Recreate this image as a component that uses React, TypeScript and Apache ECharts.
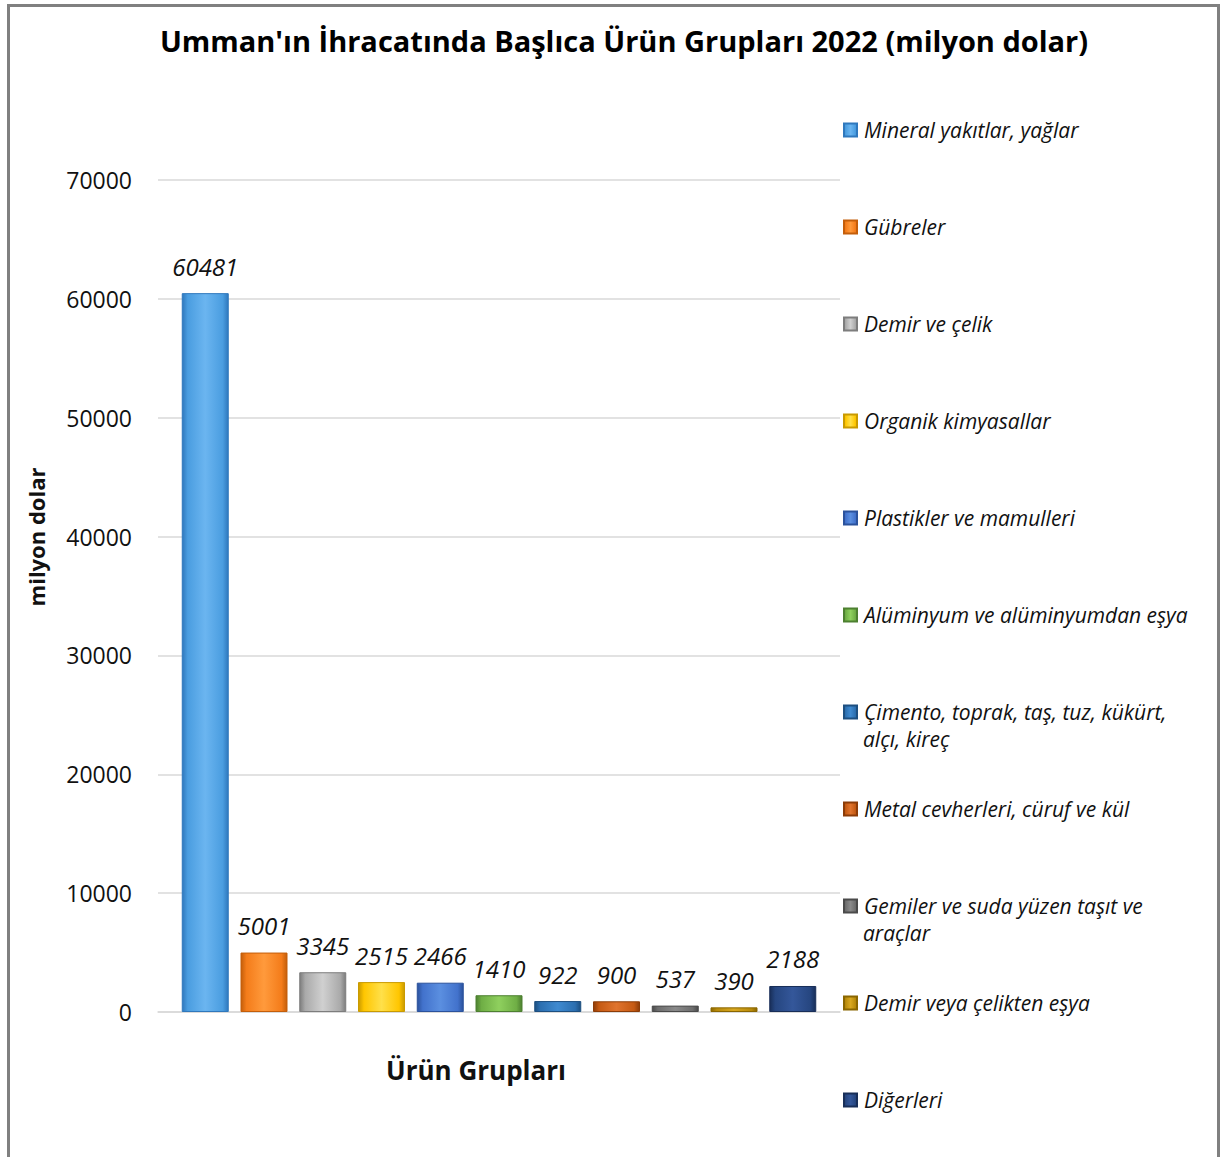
import React, { useEffect, useRef } from "react";
import * as echarts from "echarts";

const TITLE = "Umman'ın İhracatında Başlıca Ürün Grupları 2022 (milyon dolar)";
const X_NAME = "Ürün Grupları";
const Y_NAME = "milyon dolar";

const categories: string[] = [
  "Mineral yakıtlar, yağlar",
  "Gübreler",
  "Demir ve çelik",
  "Organik kimyasallar",
  "Plastikler ve mamulleri",
  "Alüminyum ve alüminyumdan eşya",
  "Çimento, toprak, taş, tuz, kükürt,\nalçı, kireç",
  "Metal cevherleri, cüruf ve kül",
  "Gemiler ve suda yüzen taşıt ve\naraçlar",
  "Demir veya çelikten eşya",
  "Diğerleri",
];

const values: number[] = [60481, 5001, 3345, 2515, 2466, 1410, 922, 900, 537, 390, 2188];

const yTicks = { min: 0, max: 70000, interval: 10000 };

// [light, mid, dark]
const colors: string[][] = [
  ["#6bb5f0", "#4a9de0", "#2f78bd"],
  ["#ff9a3c", "#f47c1a", "#c45e0a"],
  ["#d0d0d0", "#aaaaaa", "#7d7d7d"],
  ["#ffe04a", "#ffc600", "#c99a00"],
  ["#5b8fe0", "#4272cc", "#2b529c"],
  ["#8fd05e", "#6fae45", "#4d8030"],
  ["#3f8ad0", "#2c6fb0", "#1d4f80"],
  ["#e0742e", "#c55a13", "#8c3c08"],
  ["#8a8a8a", "#6d6d6d", "#4a4a4a"],
  ["#d9a820", "#b88a0b", "#8a6600"],
  ["#34579a", "#264680", "#182e58"],
];

const FONT = "'Open Sans', 'DejaVu Sans', sans-serif";

export default function App() {
  const ref = useRef<HTMLDivElement>(null);

  useEffect(() => {
    document.body.style.margin = "0";
    if (!ref.current) return;
    const chart = echarts.init(ref.current, null, { renderer: "svg" });

    const series = categories.map((name, i) => ({
      name,
      type: "bar" as const,
      data: [values[i]],
      barWidth: 47,
      barGap: "25%",
      itemStyle: {
        color: new echarts.graphic.LinearGradient(0, 0, 1, 0, [
          { offset: 0, color: colors[i][2] },
          { offset: 0.12, color: colors[i][1] },
          { offset: 0.5, color: colors[i][0] },
          { offset: 0.88, color: colors[i][1] },
          { offset: 1, color: colors[i][2] },
        ]),
        borderColor: colors[i][2],
        borderWidth: 1,
      },
      label: {
        show: true,
        position: "top" as const,
        distance: 15,
        fontFamily: FONT,
        fontStyle: "italic" as const,
        fontSize: 24,
        color: "#111",
      },
    }));

    const legendTop0 = 130;
    const legendStep = 97;
    const legends = categories.map((name, i) => ({
      data: [name],
      orient: "vertical" as const,
      left: 838,
      top: legendTop0 + legendStep * i - 18,
      itemWidth: 13,
      itemHeight: 13,
      icon: "rect",
      selectedMode: false,
      formatter: (n: string) => n.split("\n")[0],
      textStyle: {
        fontFamily: FONT,
        fontStyle: "italic" as const,
        fontSize: 21,
        lineHeight: 26,
        color: "#111",
        padding: [0, 0, 0, 2],
      },
    }));

    const secondLines: any[] = [];
    categories.forEach((name, i) => {
      const parts = name.split("\n");
      if (parts.length > 1) {
        secondLines.push({
          type: "text",
          left: 863,
          top: legendTop0 + legendStep * i + 16,
          style: {
            text: parts[1],
            font: `italic 21px ${FONT}`,
            fill: "#111",
          },
        });
      }
    });

    chart.setOption({
      animation: false,
      backgroundColor: "#ffffff",
      grid: { left: 158, right: 383, top: 180, bottom: 145, containLabel: false },
      legend: legends,
      xAxis: {
        type: "category",
        data: [""],
        axisLine: { show: true, lineStyle: { color: "#d9d9d9", width: 1.5 } },
        axisTick: { show: false },
        axisLabel: { show: false },
      },
      yAxis: {
        type: "value",
        min: yTicks.min,
        max: yTicks.max,
        interval: yTicks.interval,
        axisLine: { show: false },
        axisTick: { show: false },
        axisLabel: {
          fontFamily: FONT,
          fontSize: 23,
          color: "#111",
          margin: 26,
          formatter: (v: number) => String(v),
        },
        splitLine: { lineStyle: { color: "#d9d9d9", width: 1.5 } },
      },
      series,
      graphic: [
        {
          type: "rect",
          shape: { x: 8.5, y: 5.5, width: 1210, height: 1200 },
          style: { fill: "none", stroke: "#808080", lineWidth: 3 },
          silent: true,
        },
        {
          type: "text",
          x: 624,
          y: 40,
          style: {
            text: TITLE,
            font: `bold 29px ${FONT}`,
            fill: "#000",
            textAlign: "center",
            textVerticalAlign: "middle",
          },
        },
        {
          type: "text",
          x: 476,
          y: 1070,
          style: {
            text: X_NAME,
            font: `bold 26px ${FONT}`,
            fill: "#111",
            textAlign: "center",
            textVerticalAlign: "middle",
          },
        },
        {
          type: "text",
          x: 36,
          y: 537,
          rotation: Math.PI / 2,
          style: {
            text: Y_NAME,
            font: `bold 22px ${FONT}`,
            fill: "#111",
            textAlign: "center",
            textVerticalAlign: "middle",
          },
        },
        ...secondLines,
      ],
    });

    return () => chart.dispose();
  }, []);

  return <div ref={ref} style={{ width: 1223, height: 1157 }} />;
}
